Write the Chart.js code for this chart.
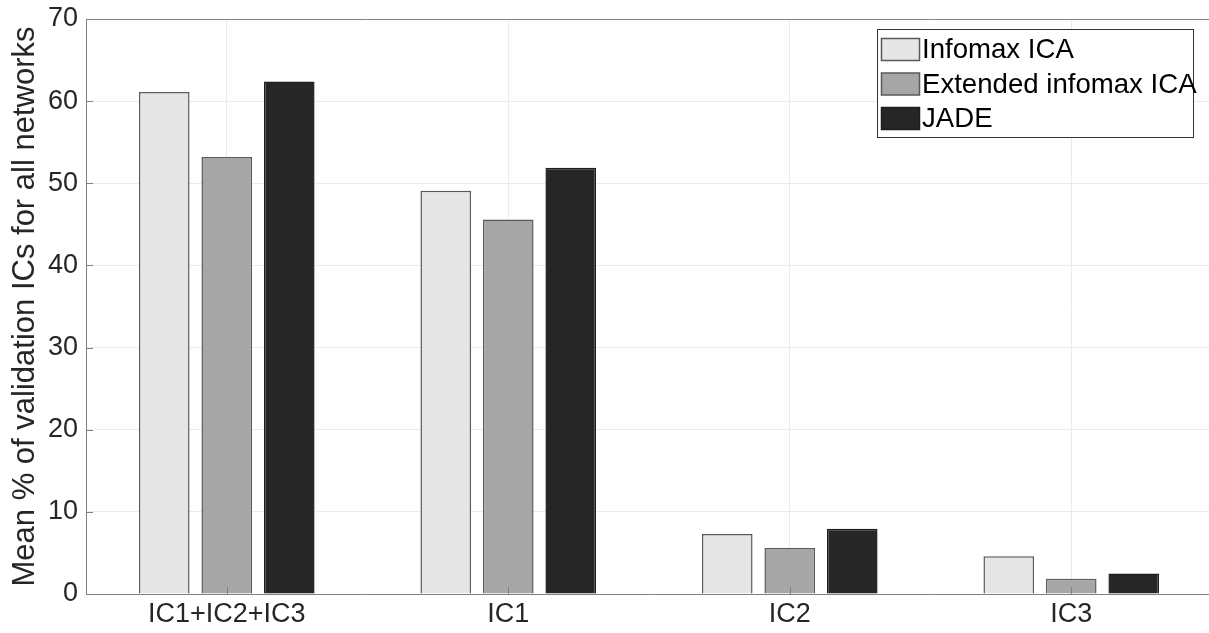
<!DOCTYPE html>
<html>
<head>
<meta charset="utf-8">
<script src="https://cdn.jsdelivr.net/npm/chart.js@4"></script>
<style>
html,body{margin:0;padding:0;background:#fff;overflow:hidden;width:1209px;height:633px;}
canvas{position:absolute;left:0;top:0;}
</style>
</head>
<body>
<canvas id="c" width="1212" height="633" style="width:1212px;height:633px"></canvas>
<script>
const categories = ['IC1+IC2+IC3', 'IC1', 'IC2', 'IC3'];
const seriesNames = ['Infomax ICA', 'Extended infomax ICA', 'JADE'];
const infomax = [61.1, 49.1, 7.3, 4.6];
const extended = [53.2, 45.6, 5.6, 1.85];
const jade = [62.4, 51.9, 7.95, 2.5];
const yTicks = [0, 10, 20, 30, 40, 50, 60, 70];
const yTitle = 'Mean % of validation ICs for all networks';

const fills = ['#e6e6e6', '#a6a6a6', '#262626'];
const borders = ['#5a5a5a', '#5a5a5a', '#1e1e1e'];
const FONT = '"Liberation Sans", Arial, Helvetica, sans-serif';
const TXT = '#262626';

const boxPlugin = {
  id: 'boxPlugin',
  afterDatasetsDraw(chart) {
    const ctx = chart.ctx, a = chart.chartArea;
    const x = chart.scales.x, y = chart.scales.y;
    ctx.save();
    ctx.strokeStyle = '#808080';
    ctx.lineWidth = 1;
    ctx.beginPath();
    yTicks.forEach(v => {
      const py = Math.round(y.getPixelForValue(v)) + 0.5;
      ctx.moveTo(a.left, py); ctx.lineTo(a.left + 7, py);
    });
    categories.forEach((c, i) => {
      const px = Math.round(x.getPixelForValue(i)) + 0.5;
      ctx.moveTo(px, a.bottom); ctx.lineTo(px, a.bottom - 7);
    });
    ctx.stroke();
    ctx.beginPath();
    ctx.moveTo(a.left, Math.round(a.top) + 0.5);
    ctx.lineTo(a.right, Math.round(a.top) + 0.5);
    ctx.stroke();
    ctx.restore();
  },
  afterDraw(chart) {
    const ctx = chart.ctx;
    ctx.save();
    const bx = 877.5, by = 29.5, bw = 316, bh = 108;
    ctx.fillStyle = '#fff';
    ctx.fillRect(bx, by, bw, bh);
    ctx.strokeStyle = '#333';
    ctx.lineWidth = 1;
    ctx.strokeRect(bx, by, bw, bh);
    ctx.font = '27.6px ' + FONT;
    ctx.textBaseline = 'middle';
    ctx.textAlign = 'left';
    chart.data.datasets.forEach((ds, i) => {
      const sy = 38.5 + i * 34.5;
      ctx.fillStyle = ds.backgroundColor;
      ctx.fillRect(881.5, sy, 38, 22);
      ctx.strokeStyle = ds.borderColor;
      ctx.lineWidth = 1.5;
      ctx.strokeRect(881.5, sy, 38, 22);
      ctx.fillStyle = '#000';
      ctx.fillText(ds.label, 922, sy + 12);
    });
    ctx.restore();
  }
};

const mk = (i, data) => ({
  label: seriesNames[i],
  data: data,
  backgroundColor: fills[i],
  borderColor: borders[i],
  borderWidth: 1.5,
  categoryPercentage: 0.666,
  barPercentage: 0.81
});

new Chart(document.getElementById('c'), {
  type: 'bar',
  data: {
    labels: categories,
    datasets: [mk(0, infomax), mk(1, extended), mk(2, jade)]
  },
  options: {
    responsive: false,
    animation: false,
    devicePixelRatio: 1,
    layout: { padding: { top: 19, right: 0, left: 0, bottom: 0 } },
    plugins: { legend: { display: false }, tooltip: { enabled: false } },
    scales: {
      x: {
        grid: { offset: false, color: '#ebebeb', drawTicks: false },
        border: { color: '#808080', width: 1 },
        ticks: { color: TXT, font: { family: FONT, size: 27 }, padding: 4, maxRotation: 0 },
        afterFit(s) { s.height = 39; s.paddingLeft = 0; s.paddingRight = 0; }
      },
      y: {
        min: 0, max: 70,
        afterBuildTicks(s) { s.ticks = yTicks.map(v => ({ value: v })); },
        grid: { color: '#ebebeb', drawTicks: false },
        border: { color: '#808080', width: 1 },
        ticks: { color: TXT, font: { family: FONT, size: 27 }, padding: 8 },
        title: { display: true, text: yTitle, color: TXT, font: { family: FONT, size: 31 }, padding: { top: 7, bottom: 0 } },
        afterFit(s) { s.width = 86; s.paddingTop = 0; s.paddingBottom = 0; }
      }
    }
  },
  plugins: [boxPlugin]
});
</script>
</body>
</html>
